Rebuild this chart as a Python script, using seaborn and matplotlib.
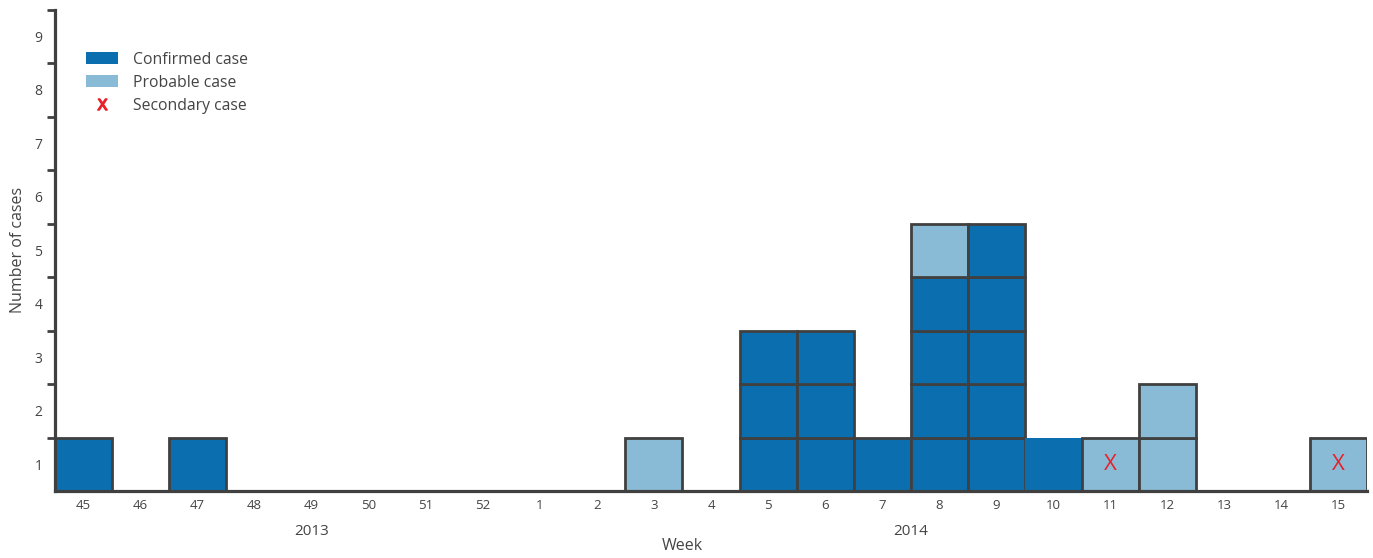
import numpy as np
import pandas as pd
import seaborn as sns
import matplotlib.pyplot as plt
from matplotlib import ticker, transforms
from matplotlib.patches import Patch
from matplotlib.lines import Line2D

weeks = ["45", "46", "47", "48", "49", "50", "51", "52", "1", "2", "3", "4",
         "5", "6", "7", "8", "9", "10", "11", "12", "13", "14", "15"]
confirmed = [1, 0, 1, 0, 0, 0, 0, 0, 0, 0, 0, 0, 3, 3, 1, 4, 5, 1, 0, 0, 0, 0, 0]
probable = [0, 0, 0, 0, 0, 0, 0, 0, 0, 0, 1, 0, 0, 0, 0, 1, 0, 0, 1, 2, 0, 0, 1]
secondary = [0, 0, 0, 0, 0, 0, 0, 0, 0, 0, 0, 0, 0, 0, 0, 0, 0, 0, 1, 0, 0, 0, 1]
years = ["2013", "2014"]
year_pos = [4, 14.5]

sns.set_style("white")
plt.rcParams['font.family'] = ['Open Sans', 'DejaVu Sans']

c_conf = '#0B6FAF'
c_prob = '#8ABBD6'
c_edge = '#404040'
c_text = '#444444'

fig = plt.figure(figsize=(13.73, 5.58), dpi=100)
ax = fig.add_axes([55 / 1373, 67 / 558, 1312 / 1373, 481.5 / 558])

x = np.arange(len(weeks))
for i in x:
    # week 10 is drawn without an outline in the original
    ec = 'none' if weeks[i] == "10" else c_edge
    for k in range(confirmed[i]):
        ax.bar(i, 1, bottom=k, width=1.0, color=c_conf, edgecolor=ec, linewidth=2, zorder=2)
    for k in range(probable[i]):
        ax.bar(i, 1, bottom=confirmed[i] + k, width=1.0, color=c_prob, edgecolor=ec, linewidth=2, zorder=2)
    for k in range(secondary[i]):
        ax.text(i, confirmed[i] + k + 0.5, "X", color='#E8202A', fontsize=16,
                ha='center', va='center', zorder=3)

ax.set_xlim(-0.5, len(weeks) - 0.5)
ax.set_ylim(0, 9)

ax.set_xticks(x)
ax.set_xticklabels(weeks, fontsize=9.5, color=c_text)
ax.tick_params(axis='x', length=0, pad=6)

ax.yaxis.set_major_locator(ticker.FixedLocator(np.arange(1, 10)))
ax.yaxis.set_major_formatter(ticker.NullFormatter())
ax.yaxis.set_minor_locator(ticker.FixedLocator(np.arange(0.5, 9, 1)))
ax.yaxis.set_minor_formatter(ticker.FixedFormatter([str(n) for n in range(1, 10)]))
ax.tick_params(axis='y', which='major', length=6, width=2, color=c_edge, direction='out', left=True)
ax.tick_params(axis='y', which='minor', length=0, labelsize=10, labelcolor=c_text, pad=9)

for s in ['top', 'right']:
    ax.spines[s].set_visible(False)
for s in ['left', 'bottom']:
    ax.spines[s].set_color(c_edge)
    ax.spines[s].set_linewidth(2.3)
ax.spines['bottom'].set_zorder(4)

trans = transforms.blended_transform_factory(ax.transData, ax.transAxes)
for yr, p in zip(years, year_pos):
    ax.text(p, -0.085, yr, transform=trans, ha='center', va='center', fontsize=11, color=c_text)
ax.text(10.5, -0.115, "Week", transform=trans, ha='center', va='center', fontsize=11.5, color=c_text)
ax.set_ylabel("Number of cases", fontsize=11.5, color=c_text, labelpad=6)

handles = [Patch(facecolor=c_conf, edgecolor='none'),
           Patch(facecolor=c_prob, edgecolor='none'),
           Line2D([], [], linestyle='none', marker=r'$\mathrm{X}$', color='#E8202A', markersize=8)]
ax.legend(handles, ["Confirmed case", "Probable case", "Secondary case"],
          loc='upper left', bbox_to_anchor=(0.013, 0.942), frameon=False,
          fontsize=11.3, labelcolor=c_text, handlelength=2.0, handleheight=0.8,
          labelspacing=0.45, handletextpad=1.0)

plt.savefig('out.png', dpi=100)
